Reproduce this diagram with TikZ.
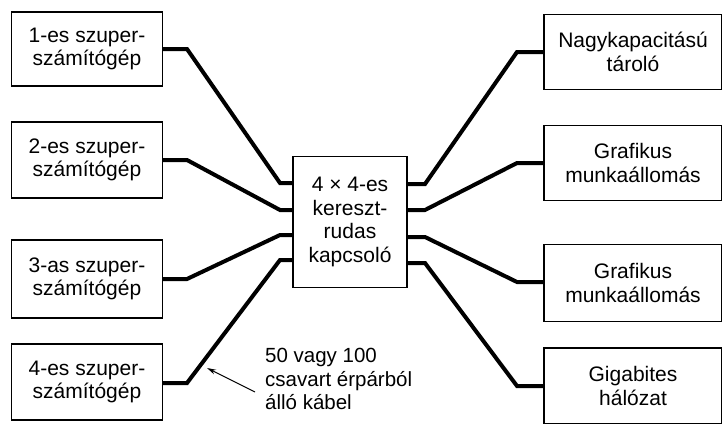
\documentclass[tikz,border=0pt]{standalone}
\usepackage{fontspec}
\setmainfont{Liberation Sans}
\usetikzlibrary{arrows.meta}
\begin{document}
\begin{tikzpicture}[x=1pt,y=-1pt,
  box/.style={draw,line width=1.3pt,inner sep=0pt,align=center,font=\fontsize{21}{23.5}\selectfont},
  cable/.style={line width=4pt,line join=miter},
  lbl/.style={align=left,font=\fontsize{20.5}{23.5}\selectfont,inner sep=0pt}]
\useasboundingbox (0,0) rectangle (722,423);
% left boxes
\node[box,minimum width=151pt,minimum height=74pt] (L1) at (87,49) {1-es szuper-\\számítógép};
\node[box,minimum width=151pt,minimum height=76pt] (L2) at (87,160) {2-es szuper-\\számítógép};
\node[box,minimum width=151pt,minimum height=78pt] (L3) at (87,279) {3-as szuper-\\számítógép};
\node[box,minimum width=151pt,minimum height=76pt] (L4) at (87,382) {4-es szuper-\\számítógép};
% center
\node[box,minimum width=114pt,minimum height=131pt] (C) at (350,222) {4 × 4-es\\kereszt-\\rudas\\kapcsoló};
% right boxes
\node[box,minimum width=178pt,minimum height=75pt] (R1) at (633,52) {Nagykapacitású\\tároló};
\node[box,minimum width=178pt,minimum height=75pt] (R2) at (633,163) {Grafikus\\munkaállomás};
\node[box,minimum width=178pt,minimum height=77pt] (R3) at (633,283) {Grafikus\\munkaállomás};
\node[box,minimum width=178pt,minimum height=76pt] (R4) at (633,386) {Gigabites\\hálózat};
% cables left
\draw[cable] (L1.east |- 0,49) -- (187,49) -- (280,183) -- (C.west |- 0,183);
\draw[cable] (L2.east |- 0,160) -- (187,160) -- (280,210) -- (C.west |- 0,210);
\draw[cable] (L3.east |- 0,279) -- (187,279) -- (280,235) -- (C.west |- 0,235);
\draw[cable] (L4.east |- 0,383) -- (187,383) -- (280,260) -- (C.west |- 0,260);
% cables right
\draw[cable] (C.east |- 0,184) -- (425,184) -- (517,52) -- (R1.west |- 0,52);
\draw[cable] (C.east |- 0,210) -- (425,210) -- (517,163) -- (R2.west |- 0,163);
\draw[cable] (C.east |- 0,237) -- (425,237) -- (517,282) -- (R3.west |- 0,282);
\draw[cable] (C.east |- 0,263) -- (425,263) -- (517,386) -- (R4.west |- 0,386);
% annotation
\node[lbl,anchor=north west] (T) at (265,348) {50 vagy 100\\csavart érpárból\\álló kábel};
\coordinate (tip) at (207,368);
\draw[line width=1pt,-{Stealth[length=9pt,width=5pt]}] (255,392) -- (tip);
\end{tikzpicture}
\end{document}
